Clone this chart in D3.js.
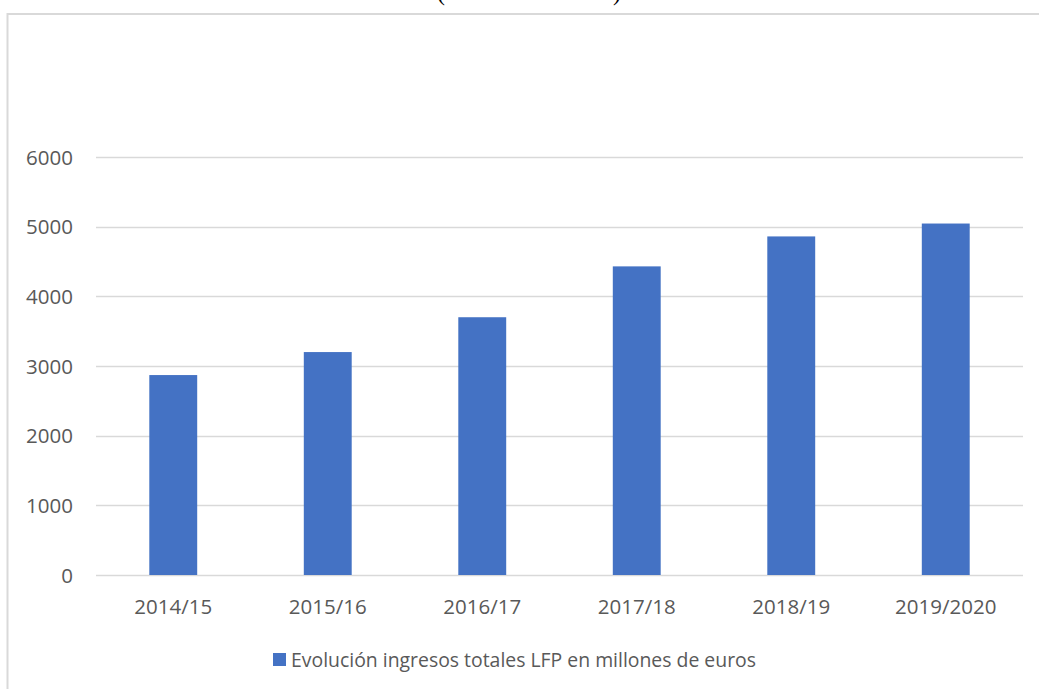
<!DOCTYPE html>
<html>
<head>
<meta charset="utf-8">
<script src="https://cdn.jsdelivr.net/npm/d3@7"></script>
<style>
  html, body { margin: 0; padding: 0; background: #fff; }
  svg { display: block; }
</style>
</head>
<body>
<svg id="chart" width="1039" height="689"></svg>
<script>
const categories = ["2014/15", "2015/16", "2016/17", "2017/18", "2018/19", "2019/2020"];
const ingresos = [2870, 3200, 3700, 4430, 4860, 5045];
const yTicks = [0, 1000, 2000, 3000, 4000, 5000, 6000];
const seriesName = "Evolución ingresos totales LFP en millones de euros";
const titleText = "(millones de euros)";

const svg = d3.select("#chart");
const font = "'Open Sans', sans-serif";
const textColor = "#595959";
const gridColor = "#D9D9D9";
const barColor = "#4472C4";

// Title (cut off at top)
svg.append("text")
  .attr("x", 437).attr("y", 0)
  .attr("font-family", "'Liberation Serif', 'Times New Roman', serif")
  .attr("font-size", 26)
  .attr("fill", "#000")
  .attr("textLength", 184)
  .attr("lengthAdjust", "spacingAndGlyphs")
  .text(titleText);

// Chart area border
svg.append("rect")
  .attr("x", 7.5).attr("y", 14)
  .attr("width", 1100).attr("height", 800)
  .attr("fill", "none")
  .attr("stroke", gridColor)
  .attr("stroke-width", 2);

const x = d3.scaleBand().domain(categories).range([96, 1023]).paddingInner(0.69).paddingOuter(0.345);
const y = d3.scaleLinear().domain([0, 6000]).range([575, 157]);

// Gridlines
svg.append("g").selectAll("line").data(yTicks).join("line")
  .attr("x1", 96).attr("x2", 1023)
  .attr("y1", d => Math.round(y(d)) + 0.5).attr("y2", d => Math.round(y(d)) + 0.5)
  .attr("stroke", gridColor).attr("stroke-width", 1.5);

// Y axis labels
const yAxis = d3.axisLeft(y).tickValues(yTicks).tickSize(0).tickPadding(0).tickFormat(d3.format("d"));
const gy = svg.append("g").attr("transform", "translate(73,0)").call(yAxis);
gy.select(".domain").remove();
gy.selectAll("text")
  .attr("font-family", font).attr("font-size", 20.5)
  .attr("fill", textColor).attr("dy", "0.35em");

// Bars
svg.append("g").selectAll("rect").data(categories).join("rect")
  .attr("x", d => x(d))
  .attr("width", x.bandwidth())
  .attr("y", (d, i) => y(ingresos[i]))
  .attr("height", (d, i) => y(0) - y(ingresos[i]))
  .attr("fill", barColor);

// X axis labels
const xAxis = d3.axisBottom(x).tickSize(0).tickPadding(0);
const gx = svg.append("g").attr("transform", "translate(0,607)").call(xAxis);
gx.select(".domain").remove();
gx.selectAll("text")
  .attr("font-family", font).attr("font-size", 20.5)
  .attr("fill", textColor).attr("dy", "0.35em");

// Legend
const lg = svg.append("g");
lg.append("rect")
  .attr("x", 273).attr("y", 653).attr("width", 13).attr("height", 13)
  .attr("fill", barColor);
lg.append("text")
  .attr("x", 291).attr("y", 660).attr("dy", "0.35em")
  .attr("font-family", font).attr("font-size", 20.5)
  .attr("fill", textColor)
  .attr("textLength", 465)
  .attr("lengthAdjust", "spacingAndGlyphs")
  .text(seriesName);
</script>
</body>
</html>
